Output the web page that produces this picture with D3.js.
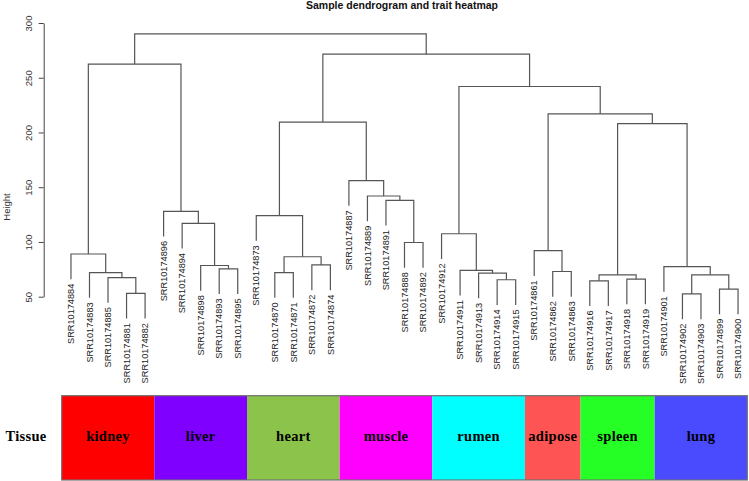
<!DOCTYPE html>
<html>
<head>
<meta charset="utf-8">
<script src="https://cdn.jsdelivr.net/npm/d3@7"></script>
<style>
body { margin: 0; background: #fff; }
svg { display: block; }
</style>
</head>
<body>
<svg id="chart"></svg>
<script>
// leaves in plotted order
var sampleNames = [
    'SRR10174884', 'SRR10174883', 'SRR10174885', 'SRR10174881', 'SRR10174882',
    'SRR10174896', 'SRR10174894', 'SRR10174898', 'SRR10174893', 'SRR10174895',
    'SRR10174873', 'SRR10174870', 'SRR10174871', 'SRR10174872', 'SRR10174874',
    'SRR10174887', 'SRR10174889', 'SRR10174891', 'SRR10174888', 'SRR10174892',
    'SRR10174912', 'SRR10174911', 'SRR10174913', 'SRR10174914', 'SRR10174915',
    'SRR10174861', 'SRR10174862', 'SRR10174863',
    'SRR10174916', 'SRR10174917', 'SRR10174918', 'SRR10174919',
    'SRR10174901', 'SRR10174902', 'SRR10174903', 'SRR10174899', 'SRR10174900'
];

var tissueNames = ['kidney', 'liver', 'heart', 'muscle', 'rumen', 'adipose', 'spleen', 'lung'];
var tissueSizes = [5, 5, 5, 5, 5, 3, 4, 5];
var tissueColors = ['#ff0000', '#8000ff', '#8bc34b', '#ff00ff', '#00ffff', '#ff5454', '#26ff26', '#4a4aff'];

// hclust style merge table: negative = sample number, positive = earlier merge row
var mergeLeft = [-4, -3, -2, -1, -9, -8, -7, -6, 4,
    -12, -14, 10, -11, -19, -18, -17, -16, 13,
    -24, -23, -22, -21, -27, -26, -29, -31, 25,
    -34, -36, 28, -33, 27, 24, 22, 18, 9];
var mergeRight = [-5, 1, 2, 3, -10, 5, 6, 7, 8,
    -13, -15, 11, 12, -20, 14, 15, 16, 17,
    -25, 19, 20, 21, -28, 23, -30, -32, 26,
    -35, -37, 29, 30, 31, 32, 33, 34, 35];
var mergeHeight = [53, 67.5, 72, 89, 75.5, 78.5, 117, 128, 262.5,
    72, 79, 86.5, 124, 99.5, 138, 142, 156, 209.5,
    65.5, 71.5, 74, 107.5, 73, 92, 64.5, 66, 70,
    52.5, 57, 70, 77.5, 208, 217, 242, 271.5, 290];

var heightTicks = [50, 100, 150, 200, 250, 300];
var hang = 23;

var svgWidth = 749,
    svgHeight = 481;

var svg = d3.select('#chart')
    .attr('width', svgWidth)
    .attr('height', svgHeight);

// build the tree
var nodes = [];
function toNode(ref) {
    return ref < 0 ? {name: sampleNames[-ref - 1]} : nodes[ref - 1];
}
for (var i = 0; i < mergeHeight.length; i++) {
    nodes.push({height: mergeHeight[i], children: [toNode(mergeLeft[i]), toNode(mergeRight[i])]});
}
var root = d3.hierarchy(nodes[nodes.length - 1]);

var x = d3.scaleBand()
    .domain(sampleNames)
    .range([61.7, 747.3]);

var y = d3.scaleLinear()
    .domain([50, 300])
    .range([296.7, 23]);

root.eachAfter(function (d) {
    d.px = d.children ? d3.mean(d.children, function (c) { return c.px; })
        : x(d.data.name) + x.bandwidth() / 2;
});

function childY(c) {
    return c.children ? y(c.data.height) : y(c.parent.data.height - hang);
}

// title
svg.append('text')
    .attr('x', 402)
    .attr('y', 8.5)
    .attr('text-anchor', 'middle')
    .attr('font-family', 'Liberation Sans, Arial, sans-serif')
    .attr('font-weight', 'bold')
    .attr('font-size', 10.5)
    .attr('fill', '#111')
    .text('Sample dendrogram and trait heatmap');

// y axis
var y_axis = d3.axisLeft(y)
    .tickValues(heightTicks)
    .tickSize(5)
    .tickSizeOuter(0);

var ax = svg.append('g')
    .attr('transform', 'translate(43.7, 0)')
    .call(y_axis);
ax.select('.domain').attr('stroke', '#444');
ax.selectAll('.tick line').attr('stroke', '#444');
ax.selectAll('.tick text')
    .attr('transform', 'rotate(-90)')
    .attr('x', 0)
    .attr('y', -12)
    .attr('dy', 0)
    .attr('text-anchor', 'middle')
    .attr('font-family', 'Liberation Sans, Arial, sans-serif')
    .attr('font-size', 9.5)
    .attr('fill', '#333');

svg.append('text')
    .attr('transform', 'translate(10, 207) rotate(-90)')
    .attr('text-anchor', 'middle')
    .attr('font-family', 'Liberation Sans, Arial, sans-serif')
    .attr('font-size', 9.5)
    .attr('fill', '#333')
    .text('Height');

// dendrogram branches
svg.append('g')
    .selectAll('path')
    .data(root.descendants().filter(function (d) { return d.children; }))
    .enter()
    .append('path')
    .attr('d', function (d) {
        var a = d.children[0], b = d.children[1], yn = y(d.data.height);
        return 'M' + a.px + ',' + childY(a) + 'V' + yn + 'H' + b.px + 'V' + childY(b);
    })
    .attr('fill', 'none')
    .attr('stroke', '#555')
    .attr('stroke-width', 1.2);

// leaf labels
svg.append('g')
    .selectAll('text')
    .data(root.leaves())
    .enter()
    .append('text')
    .attr('transform', function (d) {
        return 'translate(' + d.px + ', ' + (childY(d) + 4.5) + ') rotate(-90)';
    })
    .attr('dy', '0.35em')
    .attr('text-anchor', 'end')
    .attr('font-family', 'Liberation Sans, Arial, sans-serif')
    .attr('font-size', 9.2)
    .attr('fill', '#222')
    .text(function (d) { return d.data.name; });

// tissue colour bar
var start = 0;
var groups = tissueNames.map(function (t, i) {
    var g = {name: t, color: tissueColors[i], first: sampleNames[start], size: tissueSizes[i]};
    start += tissueSizes[i];
    return g;
});

var barTop = 395.7,
    barHeight = 84.3;

var bar = svg.append('g');
bar.selectAll('rect')
    .data(groups)
    .enter()
    .append('rect')
    .attr('x', function (d) { return x(d.first); })
    .attr('y', barTop)
    .attr('width', function (d) { return x.bandwidth() * d.size; })
    .attr('height', barHeight)
    .attr('fill', function (d) { return d.color; });

bar.append('rect')
    .attr('x', x.range()[0])
    .attr('y', barTop)
    .attr('width', x.range()[1] - x.range()[0])
    .attr('height', barHeight)
    .attr('fill', 'none')
    .attr('stroke', '#707070')
    .attr('stroke-width', 1.2);

bar.selectAll('text')
    .data(groups)
    .enter()
    .append('text')
    .attr('x', function (d) { return x(d.first) + x.bandwidth() * d.size / 2; })
    .attr('y', 441)
    .attr('text-anchor', 'middle')
    .attr('font-family', 'Liberation Serif, Times New Roman, serif')
    .attr('font-weight', 'bold')
    .attr('font-size', 14.5)
    .attr('letter-spacing', 0.3)
    .attr('fill', '#000')
    .text(function (d) { return d.name; });

svg.append('text')
    .attr('x', 26)
    .attr('y', 441)
    .attr('text-anchor', 'middle')
    .attr('font-family', 'Liberation Serif, Times New Roman, serif')
    .attr('font-weight', 'bold')
    .attr('font-size', 14.5)
    .attr('letter-spacing', 0.3)
    .attr('fill', '#000')
    .text('Tissue');
</script>
</body>
</html>
